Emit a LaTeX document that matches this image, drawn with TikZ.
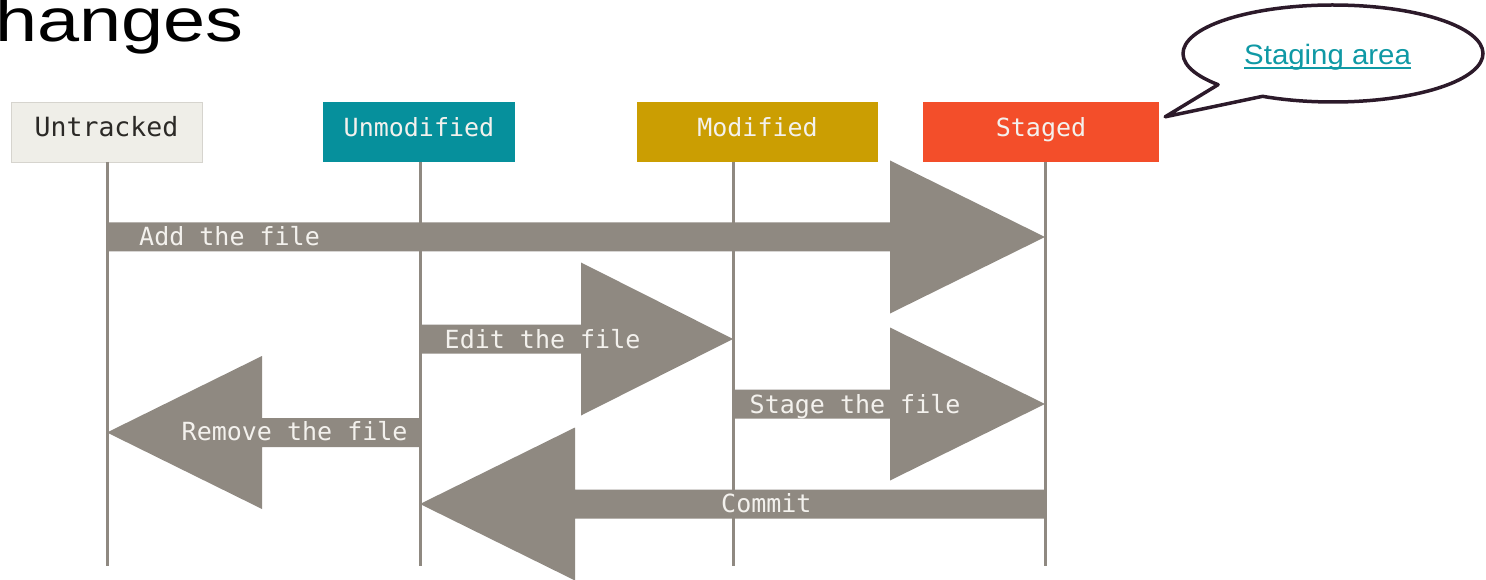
\documentclass[tikz,border=0pt]{standalone}
\usepackage{fontspec}
\setmainfont{Liberation Sans}
\newfontfamily\monofont{DejaVu Sans Mono}
\usetikzlibrary{calc}

\definecolor{flowgrey}{HTML}{8F8981}
\definecolor{untrackedfill}{HTML}{EFEEE8}
\definecolor{untrackededge}{HTML}{D6D4CE}
\definecolor{unmodifiedfill}{HTML}{06909C}
\definecolor{modifiedfill}{HTML}{CB9E02}
\definecolor{stagedfill}{HTML}{F34E2A}
\definecolor{labelink}{HTML}{F3F1ED}
\definecolor{darkink}{HTML}{2B2926}
\definecolor{bubbleedge}{HTML}{2C1A2A}
\definecolor{linkteal}{HTML}{0F99A5}

\tikzset{
  statebox/.style={rectangle, inner sep=0pt, minimum height=60pt,
    font=\monofont\fontsize{25}{28}\selectfont, text height=19pt, text depth=9pt},
  lifeline/.style={draw=flowgrey, line width=3pt},
  flowlabel/.style={anchor=base west, inner sep=0pt, text=labelink,
    font=\monofont\fontsize{25}{28}\selectfont},
}

% wide block arrow: #1 tail, #2 tip, #3 signed offset from tip to head base
\newcommand\blockarrow[3]{%
  \fill[flowgrey] ($(#1)+(0,-14.5)$) -- ($(#2)+(#3,-14.5)$) -- ($(#2)+(#3,-76.5)$)
    -- (#2) -- ($(#2)+(#3,76.5)$) -- ($(#2)+(#3,14.5)$) -- ($(#1)+(0,14.5)$) -- cycle;}

\begin{document}
\begin{tikzpicture}[x=1pt, y=-1pt]
\useasboundingbox (0,0) rectangle (1486,580);
\clip (0,0) rectangle (1486,580);

% slide heading, cut by the page edge
\node[anchor=base west, inner sep=0pt, xscale=1.24,
  font=\fontsize{61}{70}\selectfont] (heading) at (-5,41.7) {hanges};

% state boxes
\node[statebox, minimum width=191pt, fill=untrackedfill, draw=untrackededge,
  line width=0.8pt, text=darkink, font=\monofont\fontsize{26.5}{30}\selectfont]
  (untracked) at (106.5,132) {Untracked};
\node[statebox, minimum width=192pt, fill=unmodifiedfill, text=labelink]
  (unmodified) at (419,132) {Unmodified};
\node[statebox, minimum width=241pt, fill=modifiedfill, text=labelink]
  (modified) at (757.5,132) {Modified};
\node[statebox, minimum width=236pt, fill=stagedfill, text=labelink]
  (staged) at (1041,132) {Staged};

% lifelines
\coordinate (u-top) at (107,162);  \coordinate (u-bot) at (107,566);
\coordinate (n-top) at (420,162);  \coordinate (n-bot) at (420,566);
\coordinate (m-top) at (733,162);  \coordinate (m-bot) at (733,566);
\coordinate (s-top) at (1045,162); \coordinate (s-bot) at (1045,566);
\draw[lifeline] (u-top) -- (u-bot);
\draw[lifeline] (n-top) -- (n-bot);
\draw[lifeline] (m-top) -- (m-bot);
\draw[lifeline] (s-top) -- (s-bot);

% transitions
\coordinate (add-tail) at (107,237);     \coordinate (add-tip) at (1045,237);
\coordinate (edit-tail) at (420,339);    \coordinate (edit-tip) at (733,339);
\coordinate (stage-tail) at (733,404);   \coordinate (stage-tip) at (1045,404);
\coordinate (remove-tail) at (420,432.5);\coordinate (remove-tip) at (107,432.5);
\coordinate (commit-tail) at (1045,504); \coordinate (commit-tip) at (420,504);

\blockarrow{add-tail}{add-tip}{-155}
\blockarrow{edit-tail}{edit-tip}{-152}
\blockarrow{stage-tail}{stage-tip}{-155}
\blockarrow{remove-tail}{remove-tip}{155}
\blockarrow{commit-tail}{commit-tip}{155}

\node[flowlabel] (add-label) at (139,245.5) {Add the file};
\node[flowlabel] (edit-label) at (444.5,348) {Edit the file};
\node[flowlabel] (stage-label) at (749.5,413) {Stage the file};
\node[flowlabel] (remove-label) at (181.5,440.5) {Remove the file};
\node[flowlabel] (commit-label) at (721,512) {Commit};

% speech bubble pointing at the staged box
\coordinate (bubble) at (1333,53.5);
\coordinate (bubble-tip) at ($(staged.north east)+(6,15)$);
\draw[bubbleedge, line width=3.5pt, line join=round, fill=white]
  (bubble-tip) -- ($(bubble)+(140:150 and 48.5)$)
  arc[start angle=140, end angle=478, x radius=150, y radius=48.5] -- cycle;
\node[anchor=base west, inner sep=0pt, text=linkteal, xscale=1.05,
  font=\fontsize{28}{32}\selectfont] (staging) at (1244,65) {Staging area};
\draw[linkteal, line width=2pt]
  ($(staging.base west)+(0,3.5)$) -- ($(staging.base east)+(0,3.5)$);
\end{tikzpicture}
\end{document}
